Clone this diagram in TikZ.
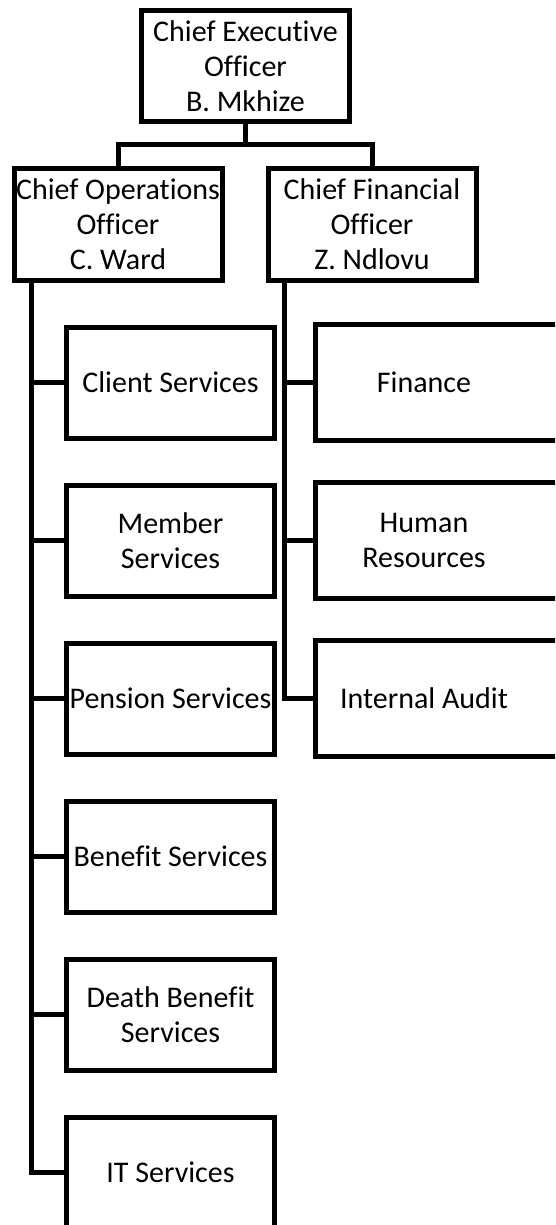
\documentclass[tikz,border=0pt]{standalone}
\usepackage{fontspec}
\setmainfont[Ligatures=CommonOff]{Carlito}
\begin{document}
\begin{tikzpicture}[x=1pt,y=-1pt,
  lw/.style={line width=5pt},
  box/.style={draw, lw, minimum width=208pt, minimum height=111pt, inner sep=0pt, align=center, font=\fontsize{30}{35}\selectfont},
  rtext/.style={box, draw=none},
  conn/.style={lw}]
\useasboundingbox (0,0) rectangle (555,1225);
\clip (0,0) rectangle (555,1225);
\coordinate (redge) at (600,0);
% top levels
\node[box] (ceo) at (245.5,66) {Chief Executive\\Officer\\B. Mkhize};
\node[box] (coo) at (118,224.5) {Chief Operations\\Officer\\C. Ward};
\node[box] (cfo) at (372,224.5) {Chief Financial\\Officer\\Z. Ndlovu};
% left children
\node[box] (cs) at (170.5,382.5) {Client Services};
\node[box] (ms) at (170.5,540.5) {Member\\Services};
\node[box] (ps) at (170.5,698.5) {Pension Services};
\node[box] (bs) at (170.5,856.5) {Benefit Services};
\node[box] (ds) at (170.5,1014.5) {Death Benefit\\Services};
\node[box] (its) at (170.5,1172.5) {IT Services};
% right children
\node[rtext] (fin) at (424,382.5) {Finance};
\node[rtext] (hr) at (424,540.5) {Human\\Resources};
\node[rtext] (ia) at (424,698.5) {Internal Audit};
\foreach \n in {fin,hr,ia}
  \draw[lw] ([xshift=-2pt]\n.north west) rectangle (\n.south east -| redge);
% connectors
\coordinate (j) at (245.5,145);
\draw[conn] (ceo.south) -- (j);
\draw[conn] (coo.north) |- (j) -| (cfo.north);
\coordinate (ltrunk) at ([xshift=20.25pt]coo.south west);
\coordinate (rtrunk) at ([xshift=19.25pt]cfo.south west);
\draw[conn] (ltrunk) |- (its.west);
\foreach \n in {cs,ms,ps,bs,ds}
  \draw[conn] (\n.west) -- (\n.west -| ltrunk);
\draw[conn] (rtrunk) |- (ia.west);
\foreach \n in {fin,hr}
  \draw[conn] ([xshift=-2pt]\n.west) -- (\n.west -| rtrunk);
\end{tikzpicture}
\end{document}
